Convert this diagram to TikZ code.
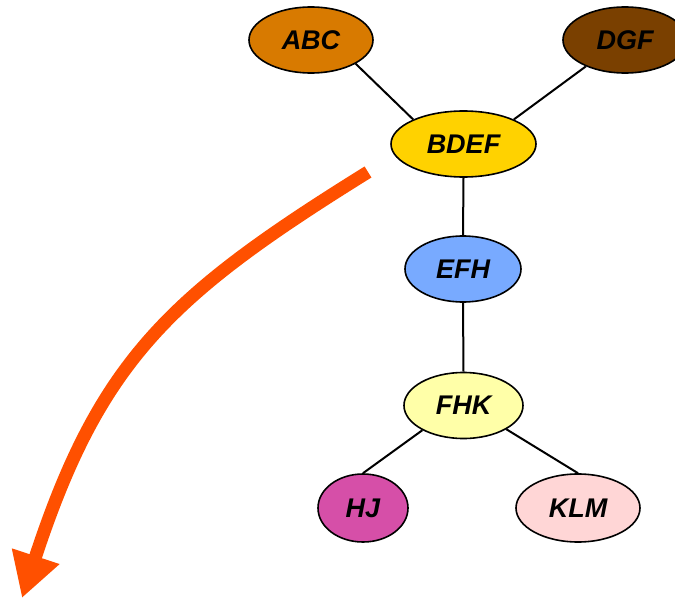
\documentclass[tikz,border=0pt]{standalone}
\usepackage{fontspec}
\setmainfont{Liberation Sans}
\usetikzlibrary{shapes.geometric,arrows.meta}

\definecolor{cABC}{HTML}{D87A00}
\definecolor{cDGF}{HTML}{7A4000}
\definecolor{cBDEF}{HTML}{FFD200}
\definecolor{cEFH}{HTML}{78AAFF}
\definecolor{cFHK}{HTML}{FFFFA8}
\definecolor{cHJ}{HTML}{D64FA8}
\definecolor{cKLM}{HTML}{FFD6D6}
\definecolor{cflow}{HTML}{FF5000}

\tikzset{
  clique/.style={ellipse, draw=black, line width=1.6pt, inner sep=0pt,
    font=\fontsize{27}{27}\selectfont\bfseries\itshape},
  edge/.style={draw=black, line width=2pt},
  flow/.style={draw=cflow, line width=13pt,
    -{Triangle[length=44pt,width=47pt]}}
}

\begin{document}
\begin{tikzpicture}[x=1pt,y=-1pt]
  \useasboundingbox (0,0) rectangle (675,599);
  \clip (0,0) rectangle (675,599);

  % cliques of the junction tree
  \node[clique, fill=cABC,  minimum width=124pt, minimum height=66pt] (ABC)  at (311,40)    {ABC};
  \node[clique, fill=cDGF,  minimum width=124pt, minimum height=66pt] (DGF)  at (625,40)    {DGF};
  \node[clique, fill=cBDEF, minimum width=145pt, minimum height=66pt] (BDEF) at (463.5,144) {BDEF};
  \node[clique, fill=cEFH,  minimum width=116pt, minimum height=66pt] (EFH)  at (463,269)   {EFH};
  \node[clique, fill=cFHK,  minimum width=119pt, minimum height=66pt] (FHK)  at (463.5,405.5) {FHK};
  \node[clique, fill=cHJ,   minimum width=90pt,  minimum height=68pt] (HJ)   at (363,508)   {HJ};
  \node[clique, fill=cKLM,  minimum width=124pt, minimum height=68pt] (KLM)  at (578,508)   {KLM};

  % tree edges
  \draw[edge] (ABC.-28)  -- (BDEF.154);
  \draw[edge] (DGF.214)  -- (BDEF.26);
  \draw[edge] (BDEF.south) -- (EFH.north);
  \draw[edge] (EFH.south)  -- (FHK.north);
  \draw[edge] (FHK.211)  -- (HJ.north);
  \draw[edge] (FHK.-29)  -- (KLM.north);

  % message flow out of the tree
  \coordinate (flowstart) at (368,172);
  \coordinate (flowend) at (22,598);
  \draw[flow] (flowstart) .. controls (170,295) and (100,360) .. (flowend);
\end{tikzpicture}
\end{document}
